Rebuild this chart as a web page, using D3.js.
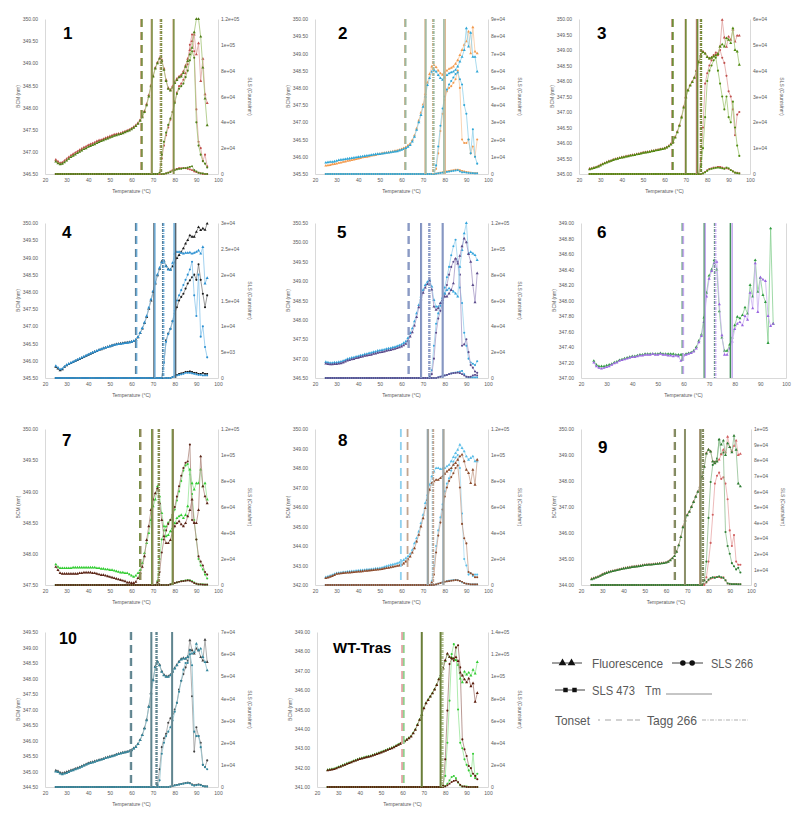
<!DOCTYPE html>
<html><head><meta charset="utf-8">
<script src="https://cdn.jsdelivr.net/npm/d3@7/dist/d3.min.js"></script>
<style>body{margin:0;background:#fff}svg{display:block}</style>
</head><body>
<svg id="c" width="807" height="816"></svg>
<script>
// ---------- shared ----------
const temps = [25,26,27,28,29,30,31,32,33,34,35,36,37,38,39,40,41,42,43,44,45,46,47,48,49,50,51,52,53,54,55,56,57,58,59,60,61,62,63,64,65,66,67,68,69,70,71,72,73,74,75,76,77,78,79,80,81,82,83,84,85,86,87,88,89,90,91,92,93,94,95];
const xTicks = [20,30,40,50,60,70,80,90,100];
const SLS_UNIT = 1e4; // SLS values below are in units of 10^4 counts/nm

// ---------- panel 1 ----------
const p1_bcm_a = [346.82,346.78,346.75,346.76,346.80,346.84,346.88,346.92,346.95,346.98,
347.01,347.04,347.07,347.10,347.12,347.15,347.17,347.19,347.21,347.24,
347.26,347.27,347.29,347.31,347.33,347.35,347.37,347.39,347.40,347.41,
347.42,347.44,347.46,347.48,347.50,347.53,347.56,347.60,347.65,347.72,
347.80,347.92,348.08,348.28,348.50,348.72,348.90,349.02,349.12,349.08,
348.88,348.62,348.44,348.40,348.48,348.58,348.65,348.70,348.74,348.82,
348.95,349.10,349.30,349.50,349.65,349.20,349.45,348.60,349.10,348.30,348.10];
const p1_bcm_b = [346.78,346.74,346.72,346.73,346.76,346.80,346.84,346.88,346.91,346.94,
346.97,347.00,347.03,347.06,347.08,347.11,347.13,347.15,347.17,347.20,
347.22,347.24,347.26,347.28,347.30,347.32,347.34,347.36,347.37,347.39,
347.40,347.42,347.44,347.46,347.48,347.51,347.54,347.58,347.63,347.70,
347.78,347.90,348.05,348.25,348.48,348.70,348.88,349.00,349.10,349.05,
348.85,348.60,348.42,348.38,348.45,348.55,348.62,348.68,348.70,348.78,
348.92,349.05,349.20,349.35,349.70,350.00,350.00,349.60,348.90,348.20,347.60];
const p1_s266_a = [0,0,0,0,0,0,0,0,0,0, 0,0,0,0,0,0,0,0,0,0, 0,0,0,0,0,0,0,0,0,0, 0,0,0,0,0,0,0,0,0,0,
0,0,0,0,0,0,0,0,0,1.2, 2.2,3.0,3.6,4.2,4.8,5.6,6.3,6.8,7.0,7.3, 7.8,8.5,10.0,10.8,9.5,5.0,2.5,2.0,1.0,1.5, 0.6];
const p1_s266_b = [0,0,0,0,0,0,0,0,0,0, 0,0,0,0,0,0,0,0,0,0, 0,0,0,0,0,0,0,0,0,0, 0,0,0,0,0,0,0,0,0,0,
0,0,0,0,0,0,0,0,0.1,1.5, 2.5,3.2,3.8,4.3,4.8,5.5,6.2,6.6,6.8,7.0, 7.5,8.0,8.8,9.5,9.0,4.0,2.2,1.5,1.0,0.8, 0.5];
const p1_s473_a = [0,0,0,0,0,0,0,0,0,0, 0,0,0,0,0,0,0,0,0,0, 0,0,0,0,0,0,0,0,0,0, 0,0,0,0,0,0,0,0,0,0, 0,0,0,0,0,0,0,0,0,0,
0,0.05,0.1,0.2,0.3,0.35,0.4,0.45,0.45,0.45, 0.45,0.4,0.35,0.3,0.2,0.15,0.1,0.05,0,0, 0];
const p1_s473_b = [0,0,0,0,0,0,0,0,0,0, 0,0,0,0,0,0,0,0,0,0, 0,0,0,0,0,0,0,0,0,0, 0,0,0,0,0,0,0,0,0,0, 0,0,0,0,0,0,0,0,0,0,
0,0.05,0.1,0.15,0.25,0.3,0.35,0.4,0.4,0.45, 0.45,0.5,0.55,0.6,0.3,0.2,0.1,0.05,0.05,0, 0];
const p1_tonset = [64.4, 64.8];
const p1_tm_a = [69.2, 79.3], p1_tm_b = [69.5, 79.6];
const p1_tagg = [73.4, 73.8];
const p1_left = ["346.50","347.00","347.50","348.00","348.50","349.00","349.50","350.00"];
const p1_right = ["0","2e+04","4e+04","6e+04","8e+04","1e+05","1.2e+05"];

// ---------- panel 2 ----------
const p2_bcm_a = [345.74,345.75,345.76,345.78,345.79,345.80,345.82,345.83,345.85,345.86,
345.88,345.89,345.90,345.92,345.93,345.95,345.96,345.98,345.99,346.00,
346.01,346.03,346.04,346.05,346.07,346.08,346.10,346.11,346.12,346.13,
346.14,346.15,346.17,346.18,346.20,346.22,346.25,346.28,346.33,346.38,
346.48,346.62,346.82,347.05,347.28,347.52,347.82,348.15,348.40,348.62,
348.66,348.60,348.50,348.42,348.38,348.45,348.50,348.55,348.58,348.62,
348.70,348.80,348.95,349.10,349.25,349.35,349.63,349.00,349.76,349.05,349.00];
const p2_bcm_b = [345.83,345.84,345.85,345.85,345.86,345.88,345.90,345.91,345.92,345.93,
345.94,345.95,345.96,345.97,345.98,345.99,346.00,346.01,346.02,346.03,
346.04,346.05,346.06,346.07,346.08,346.08,346.09,346.10,346.11,346.12,
346.13,346.14,346.15,346.16,346.18,346.20,346.22,346.25,346.29,346.34,
346.44,346.58,346.78,347.00,347.21,347.45,347.75,348.08,348.28,348.47,
348.52,348.47,348.37,348.28,348.23,348.30,348.37,348.42,348.45,348.47,
348.52,348.62,348.76,348.90,349.10,349.73,349.20,349.60,348.90,348.90,348.47];
const p2_s266_a = [0,0,0,0,0,0,0,0,0,0, 0,0,0,0,0,0,0,0,0,0, 0,0,0,0,0,0,0,0,0,0, 0,0,0,0,0,0,0,0,0,0, 0,0,0,0,0,0,0,0,0,0,
0,0.3,1.2,2.5,3.5,4.3,4.8,5.0,5.1,5.3, 5.5,6.0,5.0,2.0,1.8,1.8,2.0,1.2,1.6,1.0, 2.0];
const p2_s266_b = [0,0,0,0,0,0,0,0,0,0, 0,0,0,0,0,0,0,0,0,0, 0,0,0,0,0,0,0,0,0,0, 0,0,0,0,0,0,0,0,0,0, 0,0,0,0,0,0,0,0,0,0,
0,0.5,1.6,2.8,3.8,4.5,4.9,5.2,5.4,5.6, 5.8,5.9,5.5,5.2,4.0,3.5,2.0,1.2,2.6,1.0, 0.6];
const p2_s473_a = [0,0,0,0,0,0,0,0,0,0, 0,0,0,0,0,0,0,0,0,0, 0,0,0,0,0,0,0,0,0,0, 0,0,0,0,0,0,0,0,0,0, 0,0,0,0,0,0,0,0,0,0,
0,0.02,0.05,0.08,0.1,0.12,0.15,0.18,0.2,0.22, 0.25,0.25,0.22,0.18,0.15,0.12,0.1,0.08,0.05,0.05, 0.05];
const p2_s473_b = [0,0,0,0,0,0,0,0,0,0, 0,0,0,0,0,0,0,0,0,0, 0,0,0,0,0,0,0,0,0,0, 0,0,0,0,0,0,0,0,0,0, 0,0,0,0,0,0,0,0,0,0,
0,0.02,0.04,0.06,0.08,0.1,0.12,0.14,0.16,0.18, 0.2,0.22,0.15,0.1,0.1,0.08,0.06,0.05,0.05,0.04, 0.04];
const p2_tonset = [61.6, 61.9];
const p2_tm_a = [70.9, 80.2], p2_tm_b = [71.3, 79.6];
const p2_tagg = [74.5, 74.9];
const p2_left = ["345.50","346.00","346.50","347.00","347.50","348.00","348.50","349.00","349.50","350.00"];
const p2_right = ["0","1e+04","2e+04","3e+04","4e+04","5e+04","6e+04","7e+04","8e+04","9e+04"];

// ---------- panel 3 ----------
const p3_bcm_a = [345.17,345.18,345.20,345.22,345.25,345.29,345.32,345.35,345.38,345.41,
345.43,345.46,345.48,345.50,345.52,345.54,345.55,345.57,345.58,345.60,
345.61,345.62,345.64,345.65,345.67,345.69,345.70,345.71,345.72,345.74,
345.75,345.77,345.78,345.80,345.81,345.83,345.86,345.90,345.97,346.04,
346.20,346.37,346.58,346.85,347.17,347.49,347.71,347.87,347.98,348.12,
348.35,348.62,348.84,348.95,348.89,348.78,348.73,348.76,348.81,348.84,
348.89,349.11,349.97,349.40,349.10,349.43,349.33,349.65,349.27,349.46,349.46];
const p3_bcm_b = [345.15,345.17,345.19,345.21,345.24,345.27,345.31,345.34,345.37,345.40,
345.42,345.45,345.47,345.49,345.51,345.53,345.54,345.56,345.57,345.59,
345.60,345.61,345.63,345.64,345.66,345.68,345.69,345.70,345.71,345.73,
345.74,345.76,345.77,345.79,345.80,345.82,345.85,345.89,345.95,346.02,
346.17,346.34,346.55,346.82,347.14,347.46,347.69,347.85,347.96,348.10,
348.32,348.60,348.82,348.93,348.88,348.77,348.72,348.75,348.79,348.82,
348.87,349.11,349.18,349.11,349.38,349.33,349.22,349.70,349.00,348.95,348.52];
const p3_s266_a = [0,0,0,0,0,0,0,0,0,0, 0,0,0,0,0,0,0,0,0,0, 0,0,0,0,0,0,0,0,0,0, 0,0,0,0,0,0,0,0,0,0, 0,0,0,0,0,0,0,0,0,0,
0,0,0.5,1.8,3.5,3.9,4.2,4.4,4.6,4.7, 4.6,4.8,4.5,4.3,3.8,3.2,3.0,2.5,1.5,2.3, 2.4];
const p3_s266_b = [0,0,0,0,0,0,0,0,0,0, 0,0,0,0,0,0,0,0,0,0, 0,0,0,0,0,0,0,0,0,0, 0,0,0,0,0,0,0,0,0,0, 0,0,0,0,0,0,0,0,0,0,
0,0,0.3,1.0,2.2,3.6,4.0,4.2,4.4,4.5, 4.0,3.5,3.0,2.5,3.0,2.2,2.0,2.8,1.8,1.1, 0.7];
const p3_s473_a = [0,0,0,0,0,0,0,0,0,0, 0,0,0,0,0,0,0,0,0,0, 0,0,0,0,0,0,0,0,0,0, 0,0,0,0,0,0,0,0,0,0, 0,0,0,0,0,0,0,0,0,0,
0,0,0,0.02,0.08,0.15,0.2,0.22,0.25,0.25, 0.28,0.28,0.25,0.22,0.22,0.2,0.15,0.1,0.05,0.05, 0.03];
const p3_s473_b = [0,0,0,0,0,0,0,0,0,0, 0,0,0,0,0,0,0,0,0,0, 0,0,0,0,0,0,0,0,0,0, 0,0,0,0,0,0,0,0,0,0, 0,0,0,0,0,0,0,0,0,0,
0,0,0,0.02,0.06,0.12,0.18,0.2,0.22,0.24, 0.25,0.24,0.22,0.2,0.25,0.22,0.15,0.1,0.05,0.03, 0.02];
const p3_tonset = [63.6, 63.9];
const p3_tm_a = [69.8, 75.0], p3_tm_b = [70.0, 75.5];
const p3_tagg = [76.9, 77.2];
const p3_left = ["345.00","345.50","346.00","346.50","347.00","347.50","348.00","348.50","349.00","349.50","350.00"];
const p3_right = ["0","1e+04","2e+04","3e+04","4e+04","5e+04","6e+04"];

// ---------- panel 4 ----------
const p4_bcm_a = [345.82,345.77,345.72,345.75,345.82,345.87,345.90,345.93,345.96,345.99,
346.02,346.05,346.08,346.11,346.14,346.17,346.20,346.23,346.26,346.28,
346.31,346.33,346.36,346.38,346.40,346.42,346.44,346.46,346.48,346.49,
346.50,346.51,346.52,346.53,346.54,346.55,346.57,346.60,346.68,346.80,
346.93,347.09,347.27,347.51,347.75,347.99,348.24,348.48,348.67,348.88,
348.90,348.75,348.66,348.65,348.74,348.86,348.98,349.07,349.16,349.26,
349.40,349.50,349.64,349.60,349.60,349.74,349.88,349.79,349.84,349.80,349.98];
const p4_bcm_b = [345.85,345.80,345.75,345.77,345.83,345.88,345.91,345.94,345.97,346.00,
346.03,346.06,346.09,346.12,346.15,346.18,346.21,346.24,346.26,346.29,
346.31,346.34,346.36,346.38,346.40,346.42,346.44,346.46,346.47,346.48,
346.49,346.50,346.51,346.52,346.53,346.55,346.57,346.61,346.69,346.81,
346.95,347.11,347.30,347.54,347.78,348.02,348.27,348.50,348.70,348.86,
348.88,348.74,348.65,348.64,348.84,349.11,349.16,349.16,349.13,349.11,
349.13,349.13,349.14,349.11,349.13,349.16,349.20,349.11,349.30,348.24,348.40];
const p4_s266_a = [0,0,0,0,0,0,0,0,0,0, 0,0,0,0,0,0,0,0,0,0, 0,0,0,0,0,0,0,0,0,0, 0,0,0,0,0,0,0,0,0,0, 0,0,0,0,0,0,0,0,0,0,
0.3,0.73,0.86,0.95,1.1,1.25,1.37,1.5,1.57,1.63, 1.73,1.83,1.89,1.95,2.0,1.9,2.2,1.9,1.63,1.37, 1.6];
const p4_s266_b = [0,0,0,0,0,0,0,0,0,0, 0,0,0,0,0,0,0,0,0,0, 0,0,0,0,0,0,0,0,0,0, 0,0,0,0,0,0,0,0,0,0, 0,0,0,0,0,0,0,0,0,0,
0.3,0.7,0.85,0.95,1.1,1.3,1.5,1.6,1.7,1.8, 1.9,2.0,2.1,2.25,1.6,1.2,2.0,0.8,1.0,0.6, 0.4];
const p4_s473_a = [0,0,0,0,0,0,0,0,0,0, 0,0,0,0,0,0,0,0,0,0, 0,0,0,0,0,0,0,0,0,0, 0,0,0,0,0,0,0,0,0,0, 0,0,0,0,0,0,0,0,0,0,
0,0,0,0,0.02,0.04,0.06,0.08,0.09,0.1, 0.12,0.12,0.13,0.12,0.1,0.1,0.08,0.08,0.1,0.08, 0.08];
const p4_s473_b = [0,0,0,0,0,0,0,0,0,0, 0,0,0,0,0,0,0,0,0,0, 0,0,0,0,0,0,0,0,0,0, 0,0,0,0,0,0,0,0,0,0, 0,0,0,0,0,0,0,0,0,0,
0,0,0,0,0.02,0.03,0.05,0.06,0.07,0.08, 0.1,0.1,0.1,0.09,0.08,0.07,0.06,0.06,0.05,0.05, 0.05];
const p4_tonset = [62.0, 62.3];
const p4_tm_a = [70.4, 80.4], p4_tm_b = [70.8, 79.7];
const p4_tagg = [74.5, 74.8];
const p4_left = ["345.50","346.00","346.50","347.00","347.50","348.00","348.50","349.00","349.50","350.00"];
const p4_right = ["0","5e+03","1e+04","1.5e+04","2e+04","2.5e+04","3e+04"];

// ---------- panel 5 ----------
const p5_bcm_a = [346.91,346.90,346.89,346.89,346.90,346.90,346.91,346.92,346.94,346.96,
346.99,347.00,347.02,347.03,347.05,347.06,347.08,347.09,347.11,347.12,
347.14,347.15,347.17,347.18,347.20,347.21,347.22,347.23,347.25,347.26,
347.27,347.29,347.30,347.32,347.34,347.36,347.40,347.44,347.53,347.66,
347.78,347.96,348.17,348.38,348.60,348.77,348.90,348.98,349.03,348.86,
348.51,348.34,348.34,348.43,348.56,348.68,348.77,348.81,348.77,348.73,
348.68,348.60,349.37,349.80,350.23,350.50,349.71,349.75,349.71,349.67,349.54];
const p5_bcm_b = [346.87,346.86,346.85,346.85,346.86,346.86,346.87,346.88,346.90,346.92,
346.95,346.96,346.98,346.99,347.01,347.02,347.04,347.05,347.07,347.08,
347.09,347.10,347.12,347.13,347.15,347.16,347.17,347.18,347.20,347.21,
347.22,347.24,347.25,347.27,347.29,347.31,347.34,347.38,347.46,347.57,
347.68,347.85,348.07,348.32,348.53,348.70,348.83,348.92,349.00,348.78,
348.34,348.26,348.30,348.43,348.51,348.60,348.60,348.68,348.77,348.94,
349.58,349.45,349.65,349.90,350.10,350.00,349.70,349.50,348.90,348.45,349.20];
const p5_s266_a = [0,0,0,0,0,0,0,0,0,0, 0,0,0,0,0,0,0,0,0,0, 0,0,0,0,0,0,0,0,0,0, 0,0,0,0,0,0,0,0,0,0,
0,0,0,0,0,0,0,0,0.1,0.6, 2.5,4.2,5.0,5.6,6.2,7.0,7.8,8.6,9.5,10.2, 10.7,9.0,7.0,5.8,3.5,2.5,1.5,1.2,1.1,1.0, 1.3];
const p5_s266_b = [0,0,0,0,0,0,0,0,0,0, 0,0,0,0,0,0,0,0,0,0, 0,0,0,0,0,0,0,0,0,0, 0,0,0,0,0,0,0,0,0,0,
0,0,0,0,0,0,0,0,0.05,0.3, 1.5,3.5,4.6,5.2,5.8,6.5,7.2,8.0,8.6,9.0, 9.2,9.0,8.0,2.5,2.6,3.0,2.0,1.0,0.8,0.5, 0.4];
const p5_s473_a = [0,0,0,0,0,0,0,0,0,0, 0,0,0,0,0,0,0,0,0,0, 0,0,0,0,0,0,0,0,0,0, 0,0,0,0,0,0,0,0,0,0, 0,0,0,0,0,0,0,0,0,0,
0,0,0.05,0.1,0.15,0.2,0.25,0.3,0.35,0.4, 0.42,0.45,0.5,0.55,0.3,0.1,0.05,0.05,0.05,0.05, 0.05];
const p5_s473_b = [0,0,0,0,0,0,0,0,0,0, 0,0,0,0,0,0,0,0,0,0, 0,0,0,0,0,0,0,0,0,0, 0,0,0,0,0,0,0,0,0,0, 0,0,0,0,0,0,0,0,0,0,
0,0,0.05,0.1,0.15,0.2,0.25,0.3,0.35,0.38, 0.4,0.42,0.38,0.3,0.2,0.1,0.08,0.1,0.2,0.25, 0.2];
const p5_tonset = [63.2, 63.4];
const p5_tm_a = [68.9, 78.9], p5_tm_b = [69.2, 79.2];
const p5_tagg = [72.8, 73.0];
const p5_left = ["346.50","347.00","347.50","348.00","348.50","349.00","349.50","350.00","350.50"];
const p5_right = ["0","2e+04","4e+04","6e+04","8e+04","1e+05","1.2e+05"];

// ---------- panel 6 ----------
const p6_bcm_a = [347.22,347.17,347.15,347.15,347.15,347.16,347.17,347.18,347.20,347.21,
347.23,347.24,347.25,347.26,347.27,347.28,347.28,347.29,347.30,347.30,
347.31,347.31,347.31,347.31,347.31,347.31,347.32,347.31,347.31,347.31,
347.31,347.31,347.30,347.30,347.30,347.30,347.31,347.32,347.33,347.35,
347.40,347.48,347.56,347.78,348.10,348.32,348.40,348.52,348.40,347.86,
347.52,347.35,347.35,347.43,347.52,347.68,347.79,347.77,347.81,347.91,
347.83,348.20,348.05,348.52,348.11,348.29,348.07,347.98,347.45,348.93,347.70];
const p6_bcm_b = [347.20,347.15,347.13,347.12,347.13,347.14,347.15,347.17,347.19,347.20,
347.22,347.23,347.24,347.25,347.26,347.27,347.27,347.28,347.29,347.29,
347.30,347.30,347.30,347.31,347.30,347.30,347.31,347.30,347.30,347.29,
347.29,347.28,347.29,347.28,347.22,347.29,347.30,347.31,347.32,347.34,
347.38,347.46,347.54,347.72,348.05,348.28,348.38,348.48,348.50,347.95,
347.55,347.30,347.30,347.38,347.47,347.63,347.70,347.72,347.68,347.80,
347.75,348.10,347.90,348.48,347.85,348.30,348.27,348.25,347.80,347.67,347.70];
const p6_tonset = [59.6, 59.9];
const p6_tm_a = [68.1, 78.3], p6_tm_b = [68.5, 79.0];
const p6_tagg = [72.2, 72.5];
const p6_left = ["347.00","347.20","347.40","347.60","347.80","348.00","348.20","348.40","348.60","348.80","349.00"];

// ---------- panel 7 ----------
const p7_bcm_a = [347.83,347.79,347.77,347.77,347.77,347.77,347.77,347.77,347.78,347.78,
347.78,347.78,347.78,347.78,347.78,347.78,347.78,347.78,347.78,347.77,
347.77,347.76,347.76,347.75,347.75,347.74,347.74,347.73,347.72,347.71,
347.70,347.70,347.69,347.69,347.67,347.65,347.63,347.65,347.69,347.74,
347.85,348.01,348.17,348.33,348.54,348.76,348.87,349.08,348.92,348.65,
348.44,348.28,348.30,348.36,348.41,348.49,348.57,348.60,348.62,348.57,
348.62,348.76,349.35,349.13,349.03,349.13,349.13,349.35,349.08,349.13,348.87];
const p7_bcm_b = [347.79,347.74,347.69,347.68,347.68,347.68,347.68,347.68,347.68,347.68,
347.68,347.69,347.69,347.70,347.70,347.70,347.70,347.69,347.69,347.68,
347.67,347.66,347.66,347.65,347.64,347.63,347.62,347.61,347.60,347.59,
347.58,347.57,347.56,347.54,347.54,347.53,347.53,347.55,347.61,347.69,
347.79,347.96,348.22,348.44,348.70,348.87,348.97,349.05,348.81,348.54,
348.28,348.17,348.17,348.22,348.36,348.44,348.49,348.52,348.47,348.44,
348.49,348.60,348.70,348.87,348.49,348.49,348.70,349.56,349.08,348.92,348.81];
const p7_s266_a = [0,0,0,0,0,0,0,0,0,0, 0,0,0,0,0,0,0,0,0,0, 0,0,0,0,0,0,0,0,0,0, 0,0,0,0,0,0,0,0,0,0,
0,0,0,0,0,0,0,0.3,2.0,3.5, 4.2,4.5,4.8,5.0,5.3,5.8,6.5,7.2,8.0,8.8, 9.2,9.3,8.5,7.0,5.0,3.5,2.0,1.5,1.2,0.8, 0.5];
const p7_s266_b = [0,0,0,0,0,0,0,0,0,0, 0,0,0,0,0,0,0,0,0,0, 0,0,0,0,0,0,0,0,0,0, 0,0,0,0,0,0,0,0,0,0,
0,0,0,0,0,0,0,0.2,1.0,2.5, 3.5,4.2,4.7,5.0,5.4,6.0,6.8,7.6,8.4,9.0, 9.4,9.5,10.8,5.0,4.8,3.5,2.2,1.8,1.5,1.0, 0.8];
const p7_s473_a = [0,0,0,0,0,0,0,0,0,0, 0,0,0,0,0,0,0,0,0,0, 0,0,0,0,0,0,0,0,0,0, 0,0,0,0,0,0,0,0,0,0, 0,0,0,0,0,0,0,0,0,0,
0,0,0,0.05,0.1,0.15,0.2,0.25,0.3,0.32, 0.35,0.38,0.35,0.3,0.2,0.1,0.05,0.05,0.05,0.03, 0.03];
const p7_s473_b = [0,0,0,0,0,0,0,0,0,0, 0,0,0,0,0,0,0,0,0,0, 0,0,0,0,0,0,0,0,0,0, 0,0,0,0,0,0,0,0,0,0, 0,0,0,0,0,0,0,0,0,0,
0,0,0,0.05,0.1,0.15,0.2,0.25,0.28,0.3, 0.33,0.35,0.33,0.25,0.15,0.1,0.05,0.05,0.03,0.03, 0.03];
const p7_tonset = [63.9, 64.2];
const p7_tm_a = [69.4, 78.9], p7_tm_b = [69.8, 79.3];
const p7_tagg = [72.5, 72.8];
const p7_left = ["347.50","348.00","348.50","349.00","349.50","350.00"];
const p7_right = ["0","2e+04","4e+04","6e+04","8e+04","1e+05","1.2e+05"];

// ---------- panel 8 ----------
const p8_bcm_a = [342.40,342.43,342.47,342.51,342.56,342.60,342.62,342.63,342.65,342.66,
342.68,342.69,342.70,342.71,342.73,342.74,342.75,342.76,342.77,342.79,
342.80,342.81,342.82,342.84,342.85,342.86,342.89,342.92,342.96,342.99,
343.03,343.05,343.08,343.11,343.15,343.20,343.28,343.37,343.47,343.59,
343.80,344.14,344.40,344.74,345.17,345.60,346.20,346.62,347.14,347.57,
347.82,347.99,347.99,347.94,347.96,347.99,348.08,348.16,348.34,348.56,
348.76,348.93,349.19,349.02,348.85,348.59,348.42,348.51,348.59,348.34,348.34];
const p8_bcm_b = [342.35,342.38,342.42,342.46,342.51,342.57,342.58,342.59,342.61,342.62,
342.63,342.64,342.65,342.66,342.67,342.68,342.69,342.70,342.72,342.73,
342.74,342.75,342.76,342.78,342.79,342.80,342.82,342.84,342.86,342.88,
342.91,342.93,342.95,342.98,343.00,343.03,343.10,343.20,343.32,343.46,
343.66,343.88,344.23,344.57,345.00,345.42,345.94,346.37,346.88,347.22,
347.31,347.39,347.39,347.48,347.57,347.70,347.82,347.91,347.99,348.16,
348.25,348.42,348.59,348.68,348.34,347.91,347.74,347.22,347.91,347.14,348.42];
const p8_s266_a = [0,0,0,0,0,0,0,0,0,0, 0,0,0,0,0,0,0,0,0,0, 0,0,0,0,0,0,0,0,0,0, 0,0,0,0,0,0,0,0,0,0,
0,0,0,0,0,0,0,0,0,0.3, 1.5,3.0,4.2,5.2,6.2,7.2,7.8,8.2,8.8,9.5, 9.8,10.0,9.0,5.5,2.0,1.5,0.8,0.9,0.7,0.8, 0.8];
const p8_s266_b = [0,0,0,0,0,0,0,0,0,0, 0,0,0,0,0,0,0,0,0,0, 0,0,0,0,0,0,0,0,0,0, 0,0,0,0,0,0,0,0,0,0,
0,0,0,0,0,0,0,0,0,0.2, 0.8,2.5,3.8,4.8,5.8,6.8,7.5,8.0,8.3,8.6, 9.0,9.2,7.5,4.7,3.6,3.2,1.0,0.9,0.8,0.6, 0.6];
const p8_s473_a = [0,0,0,0,0,0,0,0,0,0, 0,0,0,0,0,0,0,0,0,0, 0,0,0,0,0,0,0,0,0,0, 0,0,0,0,0,0,0,0,0,0, 0,0,0,0,0,0,0,0,0,0,
0,0.05,0.1,0.15,0.2,0.25,0.3,0.33,0.35,0.38, 0.4,0.38,0.3,0.2,0.15,0.1,0.08,0.05,0.05,0.05, 0.05];
const p8_s473_b = [0,0,0,0,0,0,0,0,0,0, 0,0,0,0,0,0,0,0,0,0, 0,0,0,0,0,0,0,0,0,0, 0,0,0,0,0,0,0,0,0,0, 0,0,0,0,0,0,0,0,0,0,
0,0.05,0.1,0.15,0.2,0.25,0.28,0.3,0.33,0.35, 0.38,0.36,0.32,0.25,0.15,0.1,0.08,0.05,0.05,0.05, 0.05];
const p8_tonset = [59.7, 62.8];
const p8_tm_a = [72.0, 79.2], p8_tm_b = [72.4, 79.6];
const p8_tagg = [74.4, 74.7];
const p8_left = ["342.00","343.00","344.00","345.00","346.00","347.00","348.00","349.00","350.00"];
const p8_right = ["0","2e+04","4e+04","6e+04","8e+04","1e+05","1.2e+05"];

// ---------- panel 9 ----------
const p9_bcm_a = [344.24,344.26,344.29,344.32,344.36,344.41,344.44,344.47,344.50,344.52,
344.54,344.56,344.58,344.60,344.62,344.64,344.65,344.67,344.68,344.70,
344.71,344.72,344.73,344.74,344.76,344.77,344.78,344.79,344.79,344.80,
344.81,344.82,344.83,344.84,344.85,344.87,344.90,344.96,345.03,345.12,
345.29,345.54,345.86,346.25,346.51,346.70,346.83,347.02,347.21,347.41,
347.60,347.79,348.18,348.56,349.08,349.21,349.14,348.76,348.69,348.76,
348.82,349.02,349.20,349.10,349.70,349.30,349.15,349.35,349.55,349.00,349.04];
const p9_bcm_b = [344.22,344.25,344.28,344.31,344.35,344.39,344.43,344.46,344.49,344.51,
344.53,344.55,344.57,344.59,344.61,344.63,344.64,344.66,344.67,344.69,
344.70,344.71,344.72,344.73,344.75,344.76,344.77,344.78,344.78,344.79,
344.80,344.81,344.82,344.83,344.84,344.86,344.89,344.95,345.02,345.11,
345.27,345.52,345.84,346.22,346.48,346.68,346.81,347.00,347.19,347.39,
347.58,347.77,348.15,348.54,349.05,349.20,349.13,348.75,348.68,348.75,
349.60,349.40,349.55,349.00,349.45,349.30,349.10,349.74,349.20,347.90,347.79];
const p9_s266_a = [0,0,0,0,0,0,0,0,0,0, 0,0,0,0,0,0,0,0,0,0, 0,0,0,0,0,0,0,0,0,0, 0,0,0,0,0,0,0,0,0,0, 0,0,0,0,0,0,0,0,0,0,
0,0,0,0,0.5,1.5,2.7,4.5,6.5,7.0, 7.2,6.8,6.9,6.5,5.5,3.5,2.5,3.2,1.5,1.3, 1.3];
const p9_s266_b = [0,0,0,0,0,0,0,0,0,0, 0,0,0,0,0,0,0,0,0,0, 0,0,0,0,0,0,0,0,0,0, 0,0,0,0,0,0,0,0,0,0, 0,0,0,0,0,0,0,0,0,0,
0,0,0,0.3,1.5,4.3,6.6,7.7,7.9,8.1, 9.3,8.4,8.5,3.4,2.5,2.0,1.4,1.2,1.0,1.1, 0.8];
const p9_s473_a = [0,0,0,0,0,0,0,0,0,0, 0,0,0,0,0,0,0,0,0,0, 0,0,0,0,0,0,0,0,0,0, 0,0,0,0,0,0,0,0,0,0, 0,0,0,0,0,0,0,0,0,0,
0,0,0,0.05,0.15,0.3,0.4,0.45,0.5,0.5, 0.5,0.45,0.5,0.3,0.1,0.05,0.05,0.05,0.05,0.05, 0.05];
const p9_s473_b = [0,0,0,0,0,0,0,0,0,0, 0,0,0,0,0,0,0,0,0,0, 0,0,0,0,0,0,0,0,0,0, 0,0,0,0,0,0,0,0,0,0, 0,0,0,0,0,0,0,0,0,0,
0,0,0,0.05,0.2,0.35,0.45,0.5,0.45,0.5, 0.55,0.5,0.45,0.3,0.1,0.08,0.05,0.05,0.05,0.05, 0.05];
const p9_tonset = [64.0, 64.3];
const p9_tm_a = [68.8, 75.9], p9_tm_b = [69.0, 76.4];
const p9_tagg = [77.2, 77.5];
const p9_left = ["344.00","345.00","346.00","347.00","348.00","349.00","350.00"];
const p9_right = ["0","1e+04","2e+04","3e+04","4e+04","5e+04","6e+04","7e+04","8e+04","9e+04","1e+05"];

// ---------- panel 10 ----------
const p10_bcm_a = [345.03,345.01,344.96,344.94,344.96,344.98,345.01,345.04,345.06,345.09,
345.11,345.14,345.17,345.20,345.23,345.27,345.29,345.31,345.33,345.35,
345.37,345.39,345.41,345.44,345.46,345.48,345.50,345.52,345.55,345.57,
345.59,345.61,345.62,345.64,345.66,345.69,345.75,345.80,345.89,346.02,
346.18,346.40,346.67,347.10,347.53,347.96,348.39,348.55,348.44,348.23,
348.12,348.07,348.07,348.12,348.23,348.34,348.44,348.55,348.63,348.66,
348.64,348.70,349.23,348.91,348.80,348.96,348.91,348.69,348.58,349.25,348.53];
const p10_bcm_b = [345.00,344.98,344.93,344.91,344.93,344.95,344.98,345.02,345.04,345.07,
345.09,345.12,345.15,345.19,345.22,345.25,345.27,345.29,345.31,345.34,
345.36,345.38,345.40,345.43,345.45,345.47,345.49,345.51,345.54,345.56,
345.58,345.60,345.62,345.63,345.65,345.68,345.74,345.79,345.88,346.01,
346.17,346.38,346.65,347.08,347.51,347.94,348.37,348.53,348.42,348.21,
348.10,348.05,348.05,348.10,348.21,348.32,348.42,348.53,348.61,348.64,
348.64,348.69,348.91,348.80,348.85,349.12,348.91,348.96,348.69,348.53,348.26];
const p10_s266_a = [0,0,0,0,0,0,0,0,0,0, 0,0,0,0,0,0,0,0,0,0, 0,0,0,0,0,0,0,0,0,0, 0,0,0,0,0,0,0,0,0,0,
0,0,0,0,0,0,0,0.1,0.8,1.8, 2.2,2.4,2.9,3.1,3.3,3.5,3.8,4.4,4.8,5.1, 5.4,5.7,6.2,4.1,1.6,2.7,2.3,2.0,1.0,0.9, 1.2];
const p10_s266_b = [0,0,0,0,0,0,0,0,0,0, 0,0,0,0,0,0,0,0,0,0, 0,0,0,0,0,0,0,0,0,0, 0,0,0,0,0,0,0,0,0,0,
0,0,0,0,0,0,0,0.05,0.3,1.5, 2.0,2.3,2.5,2.7,3.0,3.4,3.8,4.3,4.8,5.3, 5.6,5.6,6.0,5.5,2.5,2.3,2.3,1.8,1.0,0.9, 0.8];
const p10_s473_a = [0,0,0,0,0,0,0,0,0,0, 0,0,0,0,0,0,0,0,0,0, 0,0,0,0,0,0,0,0,0,0, 0,0,0,0,0,0,0,0,0,0, 0,0,0,0,0,0,0,0,0,0,
0,0,0,0.02,0.05,0.08,0.1,0.12,0.14,0.16, 0.18,0.2,0.18,0.12,0.08,0.1,0.12,0.1,0.05,0.03, 0.03];
const p10_s473_b = [0,0,0,0,0,0,0,0,0,0, 0,0,0,0,0,0,0,0,0,0, 0,0,0,0,0,0,0,0,0,0, 0,0,0,0,0,0,0,0,0,0, 0,0,0,0,0,0,0,0,0,0,
0,0,0,0.02,0.04,0.07,0.09,0.11,0.13,0.15, 0.17,0.18,0.16,0.1,0.06,0.08,0.1,0.08,0.04,0.03, 0.02];
const p10_tonset = [59.6, 59.9];
const p10_tm_a = [69.0, 78.6], p10_tm_b = [69.3, 78.9];
const p10_tagg = [71.4, 71.7];
const p10_left = ["344.50","345.00","345.50","346.00","346.50","347.00","347.50","348.00","348.50","349.00","349.50"];
const p10_right = ["0","1e+04","2e+04","3e+04","4e+04","5e+04","6e+04","7e+04"];

// ---------- WT-Tras ----------
const wt_bcm_a = [341.88,341.90,341.92,341.94,341.98,342.03,342.07,342.12,342.16,342.21,
342.25,342.29,342.34,342.38,342.42,342.46,342.49,342.52,342.55,342.58,
342.60,342.64,342.68,342.72,342.76,342.80,342.84,342.89,342.93,342.98,
343.02,343.07,343.13,343.19,343.25,343.31,343.38,343.45,343.53,343.62,
343.79,343.97,344.22,344.48,344.74,345.08,345.34,345.51,345.68,345.85,
346.05,346.28,346.57,346.79,347.13,347.50,347.85,347.70,347.68,347.62,
347.55,347.30,346.60,346.40,346.95,346.80,346.90,346.75,347.05,346.85,347.45];
const wt_bcm_b = [341.86,341.88,341.90,341.92,341.96,342.01,342.05,342.10,342.14,342.19,
342.23,342.27,342.32,342.36,342.40,342.44,342.47,342.50,342.53,342.56,
342.58,342.62,342.66,342.70,342.74,342.78,342.82,342.87,342.91,342.96,
343.00,343.05,343.11,343.17,343.23,343.29,343.36,343.43,343.51,343.60,
343.77,343.95,344.20,344.46,344.72,345.06,345.32,345.49,345.66,345.83,
346.03,346.26,346.55,346.77,347.11,347.54,347.88,347.71,347.65,347.62,
347.70,347.50,346.90,346.75,346.55,346.40,346.60,346.20,346.35,345.40,345.85];
const wt_s266_a = [0,0,0,0,0,0,0,0,0,0, 0,0,0,0,0,0,0,0,0,0, 0,0,0,0,0,0,0,0,0,0, 0,0,0,0,0,0,0,0,0,0, 0,0,0,0,0,0,0,0,0,0,
0,0,0,0,0.2,1.0,4.0,7.8,12.0,12.9, 12.6,7.0,4.0,3.5,2.5,2.0,1.5,1.0,3.0,0.8, 1.2];
const wt_s266_b = [0,0,0,0,0,0,0,0,0,0, 0,0,0,0,0,0,0,0,0,0, 0,0,0,0,0,0,0,0,0,0, 0,0,0,0,0,0,0,0,0,0, 0,0,0,0,0,0,0,0,0,0,
0,0,0,0,0.1,2.5,6.9,11.1,11.6,11.4, 12.6,12.8,10.8,4.3,3.4,2.8,1.9,1.7,1.2,1.0, 0.7];
const wt_s473_a = [0,0,0,0,0,0,0,0,0,0, 0,0,0,0,0,0,0,0,0,0, 0,0,0,0,0,0,0,0,0,0, 0,0,0,0,0,0,0,0,0,0, 0,0,0,0,0,0,0,0,0,0,
0,0,0,0,0,0.1,0.3,0.6,0.9,1.0, 0.8,0.4,0.15,0.05,0.05,0.05,0,0,0,0, 0];
const wt_s473_b = [0,0,0,0,0,0,0,0,0,0, 0,0,0,0,0,0,0,0,0,0, 0,0,0,0,0,0,0,0,0,0, 0,0,0,0,0,0,0,0,0,0, 0,0,0,0,0,0,0,0,0,0,
0,0,0,0,0,0.05,0.15,0.3,0.45,0.55, 0.6,0.45,0.2,0.05,0.05,0,0,0,0,0, 0];
const wt_tonset = [60.6, 59.8];
const wt_tm_a = [68.9, 77.7], wt_tm_b = [69.1, 77.9];
const wt_tagg = [78.5, 78.8];
const wt_left = ["341.00","342.00","343.00","344.00","345.00","346.00","347.00","348.00","349.00"];
const wt_right = ["0","2e+04","4e+04","6e+04","8e+04","1e+05","1.2e+05","1.4e+05"];

// ---------- legend entries ----------
const legendLabels = ["Fluorescence","SLS 266","SLS 473","Tm","Tonset","Tagg 266"];

// ---------- assemble ----------
const panels = [
 {label:"1", bcm:[p1_bcm_a,p1_bcm_b], s266:[p1_s266_a,p1_s266_b], s473:[p1_s473_a,p1_s473_b], tonset:p1_tonset, tm:[p1_tm_a,p1_tm_b], tagg:p1_tagg, left:p1_left, right:p1_right},
 {label:"2", bcm:[p2_bcm_a,p2_bcm_b], s266:[p2_s266_a,p2_s266_b], s473:[p2_s473_a,p2_s473_b], tonset:p2_tonset, tm:[p2_tm_a,p2_tm_b], tagg:p2_tagg, left:p2_left, right:p2_right},
 {label:"3", bcm:[p3_bcm_a,p3_bcm_b], s266:[p3_s266_a,p3_s266_b], s473:[p3_s473_a,p3_s473_b], tonset:p3_tonset, tm:[p3_tm_a,p3_tm_b], tagg:p3_tagg, left:p3_left, right:p3_right},
 {label:"4", bcm:[p4_bcm_a,p4_bcm_b], s266:[p4_s266_a,p4_s266_b], s473:[p4_s473_a,p4_s473_b], tonset:p4_tonset, tm:[p4_tm_a,p4_tm_b], tagg:p4_tagg, left:p4_left, right:p4_right},
 {label:"5", bcm:[p5_bcm_a,p5_bcm_b], s266:[p5_s266_a,p5_s266_b], s473:[p5_s473_a,p5_s473_b], tonset:p5_tonset, tm:[p5_tm_a,p5_tm_b], tagg:p5_tagg, left:p5_left, right:p5_right},
 {label:"6", bcm:[p6_bcm_a,p6_bcm_b], s266:[], s473:[], tonset:p6_tonset, tm:[p6_tm_a,p6_tm_b], tagg:p6_tagg, left:p6_left, right:null},
 {label:"7", bcm:[p7_bcm_a,p7_bcm_b], s266:[p7_s266_a,p7_s266_b], s473:[p7_s473_a,p7_s473_b], tonset:p7_tonset, tm:[p7_tm_a,p7_tm_b], tagg:p7_tagg, left:p7_left, right:p7_right},
 {label:"8", bcm:[p8_bcm_a,p8_bcm_b], s266:[p8_s266_a,p8_s266_b], s473:[p8_s473_a,p8_s473_b], tonset:p8_tonset, tm:[p8_tm_a,p8_tm_b], tagg:p8_tagg, left:p8_left, right:p8_right},
 {label:"9", bcm:[p9_bcm_a,p9_bcm_b], s266:[p9_s266_a,p9_s266_b], s473:[p9_s473_a,p9_s473_b], tonset:p9_tonset, tm:[p9_tm_a,p9_tm_b], tagg:p9_tagg, left:p9_left, right:p9_right},
 {label:"10", bcm:[p10_bcm_a,p10_bcm_b], s266:[p10_s266_a,p10_s266_b], s473:[p10_s473_a,p10_s473_b], tonset:p10_tonset, tm:[p10_tm_a,p10_tm_b], tagg:p10_tagg, left:p10_left, right:p10_right},
 {label:"WT-Tras", bcm:[wt_bcm_a,wt_bcm_b], s266:[wt_s266_a,wt_s266_b], s473:[wt_s473_a,wt_s473_b], tonset:wt_tonset, tm:[wt_tm_a,wt_tm_b], tagg:wt_tagg, left:wt_left, right:wt_right}
];

// layout & styles (kept separate from data)
const layout = [
 {x0:45,x1:218,y0:19,y1:174,lx:63,ly:39,ls:17},
 {x0:315,x1:488,y0:19,y1:174,lx:338,ly:39,ls:17},
 {x0:579,x1:750,y0:19,y1:174,lx:597,ly:39,ls:17},
 {x0:45,x1:218,y0:223,y1:378,lx:62,ly:238,ls:17},
 {x0:315,x1:488,y0:223,y1:378,lx:337,ly:238,ls:17},
 {x0:581,x1:786,y0:223,y1:378,lx:597,ly:238,ls:17},
 {x0:45,x1:218,y0:429,y1:585,lx:62,ly:446,ls:17},
 {x0:315,x1:488,y0:429,y1:585,lx:338,ly:446,ls:17},
 {x0:581,x1:751,y0:429,y1:585,lx:598,ly:453,ls:17},
 {x0:45,x1:218,y0:632,y1:787,lx:59,ly:644,ls:16},
 {x0:317,x1:488,y0:632,y1:787,lx:333,ly:653,ls:15}
];
const styles = [
 {mk:["#c0504d","#4f7d17"], ln:["#dfa3a1","#a3c477"], vl:["#c4a07c","#7d8f45"]},
 {mk:["#f29a4f","#2fa6d6"], ln:["#f8c9a0","#93d2ea"], vl:["#d9b48c","#9cb8a0"]},
 {mk:["#c0504d","#4f8a10"], ln:["#dfa3a1","#a3c877"], vl:["#b8826e","#6f8c35"]},
 {mk:["#1a1a1a","#2a8fd0"], ln:["#808080","#8cc7ec"], vl:["#56646e","#6aa9d4"]},
 {mk:["#35a5dc","#5a4a8a"], ln:["#99d2ee","#a89cc8"], vl:["#7b8fc0","#8b9ac4"]},
 {mk:["#2e9a3e","#9a66e0"], ln:["#86cf90","#c9aef0"], vl:["#3f8f55","#c6a9f0"]},
 {mk:["#33cc33","#5a2416"], ln:["#99e699","#b08a80"], vl:["#6b8f3a","#8f8a5a"]},
 {mk:["#58bde8","#8b4a2b"], ln:["#a9dcf3","#c9a592"], vl:["#8fd0ee","#c4a58f"], tm:["#8ea2ae","#a8a49a"]},
 {mk:["#d06060","#2e7d32"], ln:["#e8a8a8","#8fbf92"], vl:["#a89878","#7f8a5f"]},
 {mk:["#404040","#31859c"], ln:["#9a9a9a","#8fc0cc"], vl:["#7f9aa0","#5f8590"]},
 {mk:["#33cc33","#5a1a0a"], ln:["#99e699","#a8807a"], vl:["#8fd08f","#e3a3a3"], tm:["#6b7f3a","#6b7f3a"], tg:["#9ab07a","#b0c090"]}
];

const svg = d3.select("#c");
const FONT = "'Liberation Sans', Arial, sans-serif";
const AX = "#d9d9d9", TXT = "#595959";

function styleAxis(sel){
  sel.select(".domain").attr("stroke", AX).attr("stroke-width", 1);
  sel.selectAll("text").attr("font-size", 5).attr("font-family", FONT).attr("fill", TXT);
}

panels.forEach((p, k) => {
  const L = layout[k], S = styles[k];
  const g = svg.append("g");
  const x = d3.scaleLinear().domain([20,100]).range([L.x0, L.x1]);
  const lv = p.left.map(Number);
  const yL = d3.scaleLinear().domain([lv[0], lv[lv.length-1]]).range([L.y1, L.y0]);

  g.append("g").attr("transform", `translate(0,${L.y1})`)
    .call(d3.axisBottom(x).tickValues(xTicks).tickSize(0).tickPadding(4).tickFormat(d3.format("d")))
    .call(styleAxis);
  g.append("g").attr("transform", `translate(${L.x0},0)`)
    .call(d3.axisLeft(yL).tickValues(lv).tickSize(0).tickPadding(7).tickFormat((d,i)=>p.left[i]))
    .call(styleAxis);

  let yR = null;
  if (p.right) {
    const rv = p.right.map(s => Number(s) / SLS_UNIT);
    yR = d3.scaleLinear().domain([0, rv[rv.length-1]]).range([L.y1, L.y0]);
    g.append("g").attr("transform", `translate(${L.x1},0)`)
      .call(d3.axisRight(yR).tickValues(rv).tickSize(0).tickPadding(3).tickFormat((d,i)=>p.right[i]))
      .call(styleAxis);
    g.append("text").attr("transform", `translate(${L.x1+30},${(L.y0+L.y1)/2}) rotate(90)`)
      .attr("text-anchor","middle").attr("font-size",5).attr("font-family",FONT).attr("fill",TXT)
      .text("SLS (Counts/nm)");
  } else {
    g.append("g").attr("transform", `translate(${L.x1},0)`)
      .call(d3.axisRight(yL).tickValues([]).tickSize(0)).call(styleAxis);
  }
  g.append("text").attr("transform", `translate(${L.x0-25},${(L.y0+L.y1)/2}) rotate(-90)`)
    .attr("text-anchor","middle").attr("font-size",5).attr("font-family",FONT).attr("fill",TXT)
    .text("BCM (nm)");
  g.append("text").attr("x",(L.x0+L.x1)/2).attr("y",L.y1+19)
    .attr("text-anchor","middle").attr("font-size",5).attr("font-family",FONT).attr("fill",TXT)
    .text("Temperature (°C)");

  function series(vals, yS, mk, ln, sym, size) {
    const pts = temps.map((t,i)=>[t, vals[i]]).filter(d => d[1] !== undefined);
    g.append("path").datum(pts)
      .attr("d", d3.line().x(d=>x(d[0])).y(d=>yS(d[1])))
      .attr("fill","none").attr("stroke",ln).attr("stroke-width",0.8);
    g.append("g").selectAll("path").data(pts).enter().append("path")
      .attr("d", d3.symbol().type(sym).size(size))
      .attr("transform", d=>`translate(${x(d[0])},${yS(d[1])})`)
      .attr("fill", mk);
  }
  if (yR) {
    [0,1].forEach(i => series(p.s473[i], yR, S.mk[i], S.ln[i], d3.symbolSquare, 3));
    [0,1].forEach(i => series(p.s266[i], yR, S.mk[i], S.ln[i], d3.symbolCircle, 3.5));
  }
  [0,1].forEach(i => series(p.bcm[i], yL, S.mk[i], S.ln[i], d3.symbolTriangle, 4));

  // vertical reference lines
  const vline = (t, color, w, dash) => {
    const l = g.append("line").attr("x1",x(t)).attr("x2",x(t)).attr("y1",L.y0).attr("y2",L.y1)
      .attr("stroke",color).attr("stroke-width",w);
    if (dash) l.attr("stroke-dasharray",dash);
  };
  [0,1].forEach(i => {
    vline(p.tonset[i], S.vl[i], 1.8, "8,5");
    p.tm[i].forEach(t => vline(t, (S.tm||S.vl)[i], 1.5, null));
    vline(p.tagg[i], (S.tg||S.vl)[i], 1.8, "3,1,1,1");
  });

  g.append("text").attr("x",L.lx).attr("y",L.ly).attr("font-size",L.ls).attr("font-weight","bold")
    .attr("font-family",FONT).attr("fill","#000").text(p.label);
});

// ---------- legend ----------
const LF = "'Liberation Sans', Arial, sans-serif";
const lg = svg.append("g").attr("font-family", LF).attr("font-size", 13).attr("fill", "#595959");
function legMark(xa, xb, y, sym, size){
  lg.append("line").attr("x1",xa).attr("x2",xb).attr("y1",y).attr("y2",y).attr("stroke","#404040").attr("stroke-width",1);
  [xa+(xb-xa)*0.35, xa+(xb-xa)*0.65].forEach(cx =>
    lg.append("path").attr("d", d3.symbol().type(sym).size(size)()).attr("transform",`translate(${cx},${y})`).attr("fill","#111"));
}
function legText(x, y, s, w){
  lg.append("text").attr("x",x).attr("y",y).attr("textLength",w).attr("lengthAdjust","spacingAndGlyphs").text(s);
}
legMark(552,582,663,d3.symbolTriangle,26);
legText(592,668,legendLabels[0],71);
legMark(672,703,663,d3.symbolCircle,24);
legText(711,668,legendLabels[1],42);
legMark(555,585,690,d3.symbolSquare,20);
legText(592,695,legendLabels[2],43);
legText(645,695,legendLabels[3],16);
lg.append("line").attr("x1",666).attr("x2",712).attr("y1",694).attr("y2",694).attr("stroke","#8c8c8c").attr("stroke-width",1);
legText(555,725,legendLabels[4],35);
lg.append("line").attr("x1",598).attr("x2",640).attr("y1",720).attr("y2",720).attr("stroke","#a6a6a6").attr("stroke-width",1.2).attr("stroke-dasharray","2,5,6,5,6,5,6");
legText(647,725,legendLabels[5],50);
lg.append("line").attr("x1",702).attr("x2",748).attr("y1",720).attr("y2",720).attr("stroke","#b0b0b0").attr("stroke-width",1.2).attr("stroke-dasharray","4,1.5,1,1.5");
</script>
</body></html>
